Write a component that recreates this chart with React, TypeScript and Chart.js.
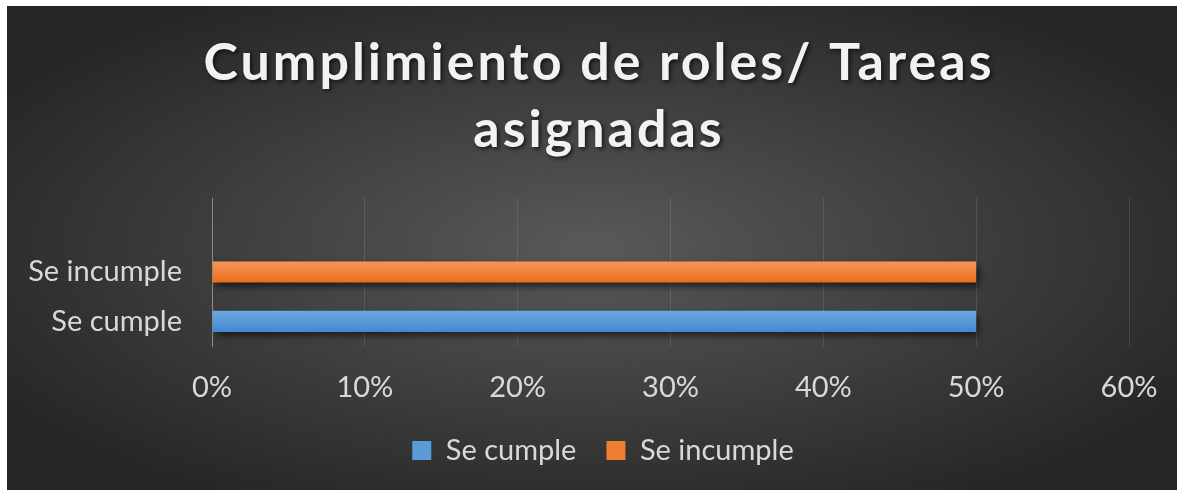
import React, { useEffect, useRef } from "react";
import { Chart, registerables } from "chart.js";

Chart.register(...registerables);

const TITLE_LINES = ["Cumplimiento de roles/ Tareas", "asignadas"];
const CATEGORIES = ["Se cumple", "Se incumple"];
const VALUES = [50, 50];
const AXIS_LABELS = [...CATEGORIES, ""];
const X_MIN = 0;
const X_MAX = 60;
const X_STEP = 10;

const BAR_TOP = ["#6eaadf", "#f4975d"];
const BAR_BOTTOM = ["#4188d3", "#e96d18"];
const LEGEND_COLORS = ["#5b9bd5", "#ed7d31"];

const FONT = "Lato, 'Open Sans', sans-serif";

const titlePlugin = {
  id: "shadowTitle",
  afterDraw(chart: any) {
    const ctx = chart.ctx;
    ctx.save();
    ctx.font = `bold 52px ${FONT}`;
    try { (ctx as any).letterSpacing = "3px"; } catch (e) {}
    ctx.fillStyle = "#f2f2f2";
    ctx.textAlign = "center";
    ctx.textBaseline = "alphabetic";
    ctx.shadowColor = "rgba(0,0,0,0.65)";
    ctx.shadowBlur = 4;
    ctx.shadowOffsetX = 2;
    ctx.shadowOffsetY = 2;
    const cx = 592;
    TITLE_LINES.forEach((line, i) => ctx.fillText(line, cx, 74 + i * 67));
    ctx.restore();
  },
};

const barShadow = {
  id: "barShadow",
  beforeDatasetDraw(chart: any) {
    const c = chart.ctx;
    c.save();
    c.shadowColor = "rgba(0,0,0,0.6)";
    c.shadowBlur = 7;
    c.shadowOffsetX = 3;
    c.shadowOffsetY = 4;
  },
  afterDatasetDraw(chart: any) {
    chart.ctx.restore();
  },
};

export default function App() {
  const ref = useRef<HTMLCanvasElement | null>(null);

  useEffect(() => {
    if (!ref.current) return;
    const chart = new Chart(ref.current, {
      type: "bar",
      data: {
        labels: AXIS_LABELS,
        datasets: [
          {
            data: VALUES,
            backgroundColor: (c: any) => {
              const i = c.dataIndex ?? 0;
              const y = c.chart?.scales?.y;
              if (!y) return LEGEND_COLORS[i];
              const py = y.getPixelForValue(i);
              if (!isFinite(py)) return LEGEND_COLORS[i];
              const g = c.chart.ctx.createLinearGradient(0, py - 11, 0, py + 11);
              g.addColorStop(0, BAR_TOP[i]);
              g.addColorStop(1, BAR_BOTTOM[i]);
              return g;
            },
            borderWidth: 0,
            categoryPercentage: 1,
            barPercentage: 0.43,
          },
        ],
      },
      options: {
        indexAxis: "y",
        responsive: false,
        animation: false,
        layout: { padding: { left: 70, right: 62, top: 192, bottom: 21 } },
        scales: {
          x: {
            min: X_MIN,
            max: X_MAX,
            ticks: {
              stepSize: X_STEP,
              padding: 24,
              color: "#d9d9d9",
              font: { family: FONT, size: 29 },
              callback: (v: any) => `${v}%`,
            },
            grid: { color: "rgba(255,255,255,0.11)", drawTicks: false, lineWidth: 1 },
            border: { display: false },
            afterFit: (s: any) => { s.height = 60; },
          },
          y: {
            reverse: true,
            ticks: {
              padding: 30,
              color: "#d9d9d9",
              font: { family: FONT, size: 29 },
            },
            grid: { display: false, drawTicks: false },
            border: { display: true, color: "#8c8c8c", width: 1 },
            afterFit: (s: any) => {
              s.width = 135;
              s._computeLabelArea = () => undefined;
            },
          },
        },
        plugins: {
          title: { display: false },
          tooltip: { enabled: false },
          legend: {
            position: "bottom",
            labels: {
              color: "#d9d9d9",
              font: { family: FONT, size: 29 },
              boxWidth: 19,
              boxHeight: 19,
              padding: 30,
              generateLabels: () =>
                CATEGORIES.map((t, i) => ({
                  text: t,
                  fillStyle: LEGEND_COLORS[i],
                  strokeStyle: LEGEND_COLORS[i],
                  lineWidth: 0,
                  hidden: false,
                  index: i,
                  datasetIndex: 0,
                  fontColor: "#d9d9d9",
                })),
            },
          },
        },
      },
      plugins: [titlePlugin, barShadow],
    } as any);
    return () => chart.destroy();
  }, []);

  return (
    <div
      style={{
        position: "fixed",
        left: 7,
        top: 6,
        width: 1170,
        height: 484,
        overflow: "hidden",
        background:
          "radial-gradient(ellipse farthest-corner at 50% 50%, #595959 0%, #262626 85%)",
      }}
    >
      <canvas ref={ref} width={1184} height={490} style={{ display: "block" }} />
    </div>
  );
}
